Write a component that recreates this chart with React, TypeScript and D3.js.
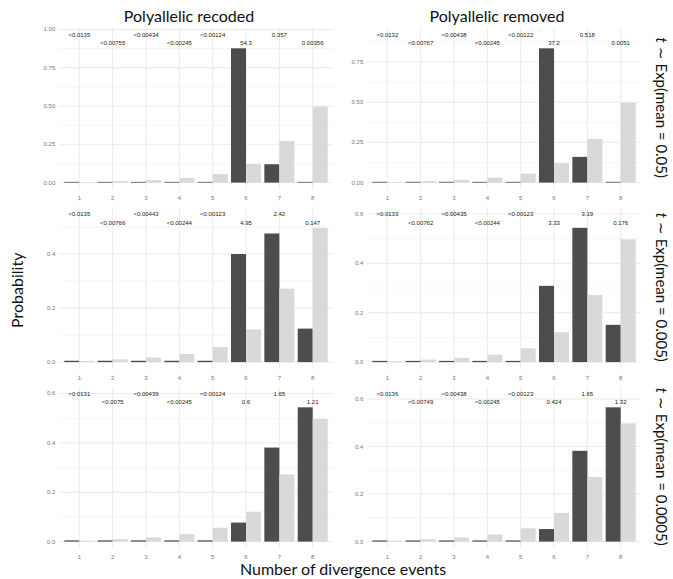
import React from "react";
import * as d3 from "d3";

// ---------- data ----------
const categories = [1, 2, 3, 4, 5, 6, 7, 8];
const columnTitles = ["Polyallelic recoded", "Polyallelic removed"];
const rowMeans = ["0.05", "0.005", "0.0005"];

// prior probability (light bars), same in every panel
const priorProb = [0.004, 0.01, 0.017, 0.03, 0.056, 0.121, 0.272, 0.497];

// posterior probability (dark bars), per panel [row][col]
const postRecoded05 = [0.005, 0.005, 0.005, 0.005, 0.005, 0.877, 0.12, 0.005];
const postRemoved05 = [0.005, 0.005, 0.005, 0.005, 0.005, 0.835, 0.16, 0.005];
const postRecoded005 = [0.005, 0.005, 0.005, 0.005, 0.005, 0.4, 0.476, 0.124];
const postRemoved005 = [0.005, 0.005, 0.005, 0.005, 0.005, 0.309, 0.544, 0.151];
const postRecoded0005 = [0.005, 0.005, 0.005, 0.005, 0.005, 0.077, 0.381, 0.544];
const postRemoved0005 = [0.005, 0.005, 0.005, 0.005, 0.005, 0.053, 0.382, 0.565];

// Bayes-factor labels
const bfRecoded05 = ["<0.0135", "<0.00755", "<0.00434", "<0.00245", "<0.00124", "54.3", "0.357", "0.00356"];
const bfRemoved05 = ["<0.0132", "<0.00767", "<0.00438", "<0.00245", "<0.00122", "37.2", "0.518", "0.0051"];
const bfRecoded005 = ["<0.0135", "<0.00766", "<0.00443", "<0.00244", "<0.00123", "4.95", "2.42", "0.147"];
const bfRemoved005 = ["<0.0133", "<0.00762", "<0.00435", "<0.00244", "<0.00123", "3.33", "3.19", "0.176"];
const bfRecoded0005 = ["<0.0131", "<0.0075", "<0.00439", "<0.00245", "<0.00124", "0.6", "1.65", "1.21"];
const bfRemoved0005 = ["<0.0136", "<0.00749", "<0.00438", "<0.00245", "<0.00123", "0.424", "1.65", "1.32"];

// y tick labels per panel
const yTicksQuarter = ["0.00", "0.25", "0.50", "0.75", "1.00"];
const yTicksFifth = ["0.0", "0.2", "0.4", "0.6"];

const posterior = [
  [postRecoded05, postRemoved05],
  [postRecoded005, postRemoved005],
  [postRecoded0005, postRemoved0005],
];
const bayesFactors = [
  [bfRecoded05, bfRemoved05],
  [bfRecoded005, bfRemoved005],
  [bfRecoded0005, bfRemoved0005],
];
const yTickSets = [
  [yTicksQuarter, yTicksQuarter],
  [yTicksFifth, yTicksFifth],
  [yTicksFifth, yTicksFifth],
];

// ---------- layout ----------
const W = 673;
const H = 579;
const colLeft = [59.3, 367.3];
const panelW = 273.4;
const rowTop = [27.5, 207, 386.5];
const panelH = 162.5;

const DARK = "#4D4D4D";
const LIGHT = "#D9D9D9";
const GRID = "#EBEBEB";
const FONT = "Lato, 'Open Sans', sans-serif";
const SMALL = "'Liberation Sans', Arial, sans-serif";

function Panel({ r, c }: { r: number; c: number }) {
  const post = posterior[r][c];
  const bf = bayesFactors[r][c];
  const left = colLeft[c];
  const top = rowTop[r];
  const x = d3.scaleLinear().domain([0.4, 8.6]).range([left, left + panelW]);
  const maxVal = d3.max([...post, ...priorProb]) as number;
  const lab1 = maxVal * 1.1;
  const lab2 = maxVal * 1.038;
  const y = d3
    .scaleLinear()
    .domain([-0.05 * lab1, 1.05 * lab1])
    .range([top + panelH, top]);
  const [y0, y1] = y.domain();
  const ticks = yTickSets[r][c].map((t) => ({ v: +t, t })).filter((d) => d.v >= y0 && d.v <= y1);
  const step = ticks[1].v - ticks[0].v;
  const minor: number[] = [];
  for (let v = ticks[0].v - step / 2; v <= y1; v += step) if (v >= y0) minor.push(v);
  const bw = 0.45;
  return (
    <g>
      {minor.map((v, i) => (
        <line key={"mn" + i} x1={left} x2={left + panelW} y1={y(v)} y2={y(v)} stroke={GRID} strokeWidth={0.5} />
      ))}
      {ticks.map((d, i) => (
        <line key={"mj" + i} x1={left} x2={left + panelW} y1={y(d.v)} y2={y(d.v)} stroke={GRID} strokeWidth={1} />
      ))}
      {categories.map((k) => (
        <line key={"vx" + k} x1={x(k)} x2={x(k)} y1={top} y2={top + panelH} stroke={GRID} strokeWidth={1} />
      ))}
      {categories.map((k, i) => (
        <g key={"b" + k}>
          <rect x={x(k - bw)} width={x(k) - x(k - bw)} y={y(post[i])} height={y(0) - y(post[i])} fill={DARK} />
          <rect x={x(k)} width={x(k + bw) - x(k)} y={y(priorProb[i])} height={y(0) - y(priorProb[i])} fill={LIGHT} />
        </g>
      ))}
      {categories.map((k, i) => (
        <text
          key={"bf" + k}
          x={x(k)}
          y={y(i % 2 === 0 ? lab1 : lab2)}
          textAnchor="middle"
          dominantBaseline="central"
          fontFamily={SMALL}
          fontSize={6}
          fill="#222"
        >
          {bf[i]}
        </text>
      ))}
      {ticks.map((d, i) => (
        <text
          key={"yt" + i}
          x={left - 4}
          y={y(d.v)}
          textAnchor="end"
          dominantBaseline="central"
          fontFamily={SMALL}
          fontSize={6}
          fill="#777"
        >
          {d.t}
        </text>
      ))}
      {categories.map((k) => (
        <text
          key={"xt" + k}
          x={x(k)}
          y={top + panelH + 8}
          textAnchor="middle"
          dominantBaseline="central"
          fontFamily={SMALL}
          fontSize={6}
          fill="#777"
        >
          {k}
        </text>
      ))}
    </g>
  );
}

export default function App() {
  return (
    <svg width={W} height={H} style={{ position: "absolute", left: 0, top: 0, background: "#fff" }}>
      <rect width={W} height={H} fill="#fff" />
      {rowTop.map((_, r) =>
        colLeft.map((_, c) => <Panel key={r + "-" + c} r={r} c={c} />)
      )}
      {columnTitles.map((t, c) => (
        <text
          key={t}
          x={colLeft[c] + panelW / 2 - 7}
          y={15}
          textAnchor="middle"
          dominantBaseline="central"
          fontFamily={FONT}
          fontSize={16}
          fill="#111"
        >
          {t}
        </text>
      ))}
      {rowMeans.map((m, r) => (
        <text
          key={m}
          transform={`translate(662,${rowTop[r] + panelH / 2 - 1}) rotate(90)`}
          textAnchor="middle"
          dominantBaseline="central"
          fontFamily={FONT}
          fontSize={15}
          fill="#111"
        >
          <tspan fontStyle="italic">t</tspan>
          {" \u223C Exp(mean = " + m + ")"}
        </text>
      ))}
      <text
        transform={`translate(16,${(rowTop[0] + rowTop[2] + panelH) / 2 + 2}) rotate(-90)`}
        textAnchor="middle"
        dominantBaseline="central"
        fontFamily={FONT}
        fontSize={16}
        fill="#111"
      >
        Probability
      </text>
      <text
        x={(colLeft[0] + colLeft[1] + panelW) / 2 - 7}
        y={568}
        textAnchor="middle"
        dominantBaseline="central"
        fontFamily={FONT}
        fontSize={16}
        fill="#111"
      >
        Number of divergence events
      </text>
    </svg>
  );
}
